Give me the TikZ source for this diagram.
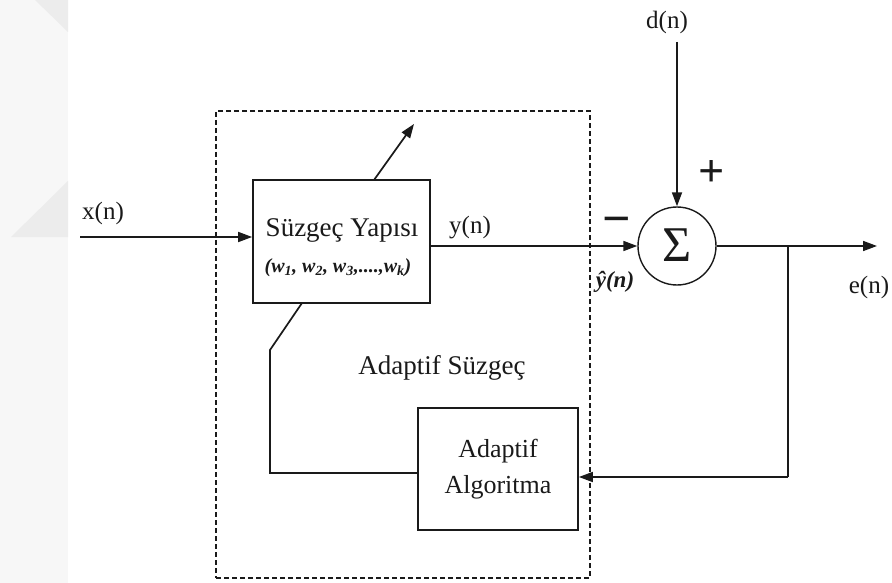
\documentclass[tikz,border=0pt]{standalone}
\usepackage{fontspec}
\setmainfont{Liberation Serif}
\usetikzlibrary{arrows.meta}
\definecolor{wmstrip}{HTML}{F7F7F7}
\definecolor{wmtri}{HTML}{ECECEC}
\definecolor{ink}{HTML}{1A1A1A}
\begin{document}
\begin{tikzpicture}[x=1pt,y=-1pt,
  line/.style={draw=ink, line width=1.7pt},
  arr/.style={line, -{Triangle[length=14pt,width=10pt]}},
  blk/.style={line, rectangle, inner sep=0pt},
  dbox/.style={draw=ink, line width=1.8pt, dash pattern=on 5pt off 3pt, rectangle, inner sep=0pt},
  lbl/.style={inner sep=0pt, text=ink, font=\fontsize{25}{28}\selectfont},
  bigsym/.style={inner sep=0pt, text=ink, font=\fontsize{46}{46}\selectfont\bfseries}
]
\useasboundingbox (0,0) rectangle (892,583);
\fill[white] (0,0) rectangle (892,583);
% faint watermark at the left edge
\fill[wmstrip] (0,0) rectangle (68,583);
\fill[wmtri] (35,0) -- (68,0) -- (68,32) -- cycle;
\fill[wmtri] (68,181) -- (68,237) -- (11,237) -- cycle;

% dashed adaptive-filter frame
\node[dbox, minimum width=374pt, minimum height=467pt] (frame) at (403,344.5) {};

% blocks
\node[blk, minimum width=177pt, minimum height=123pt] (filt) at (341.5,241.5) {};
\node[lbl, font=\fontsize{27}{30}\selectfont] (filtname) at (342,230) {Süzgeç Yapısı};
\node[lbl, font=\fontsize{20}{22}\selectfont\bfseries\itshape] (weights) at (338,268)
  {(w\textsubscript{1}, w\textsubscript{2}, w\textsubscript{3},....,w\textsubscript{k})};

\node[blk, minimum width=160pt, minimum height=122pt, align=center,
  font=\fontsize{26}{36}\selectfont, text=ink] (alg) at (498,469) {Adaptif\\Algoritma};

\node[line, line width=1.4pt, circle, minimum size=78pt, inner sep=0pt] (sum) at (677,246) {};
\node[inner sep=0pt, text=ink, font=\fontsize{50}{50}\selectfont] (sigma) at (677,245) {Σ};

% labels
\node[lbl] (xlab) at (103,213) {x(n)};
\node[lbl] (ylab) at (470,228) {y(n)};
\node[lbl] (dlab) at (667,22) {d(n)};
\node[lbl] (elab) at (869,287) {e(n)};
\node[lbl, font=\fontsize{23}{26}\selectfont\bfseries\itshape] (yhat) at (615,282) {ŷ(n)};
\node[lbl, font=\fontsize{27}{30}\selectfont] (adlab) at (442,368) {Adaptif Süzgeç};
\node[bigsym] (plus) at (712,174) {+};
\node[bigsym, font=\fontsize{50}{50}\selectfont\bfseries] (minus) at (617,226) {−};

% coordinates
\coordinate (xin) at (80,237);
\coordinate (dtop) at (677,42);
\coordinate (eout) at (877,246);
\coordinate (br) at (788,246);
\coordinate (br2) at (788,477);
\coordinate (fbl) at (270,473);
\coordinate (fbk) at (270,350);
\coordinate (fb) at (302,303);
\coordinate (wst) at (374,180);
\coordinate (wtip) at (414,124);

% connectors
\draw[arr] (xin) -- (xin -| filt.west);
\draw[arr] (filt.east |- sum) -- (sum.west);
\draw[arr] (dtop) -- (sum.north);
\draw[arr] (sum.east) -- (eout);
\draw[line] (br) -- (br2);
\draw[arr] (br2) -- (br2 -| alg.east);
\draw[line] (alg.west |- fbl) -- (fbl) -- (fbk) -- (fb);
\draw[arr] (wst) -- (wtip);
\end{tikzpicture}
\end{document}
